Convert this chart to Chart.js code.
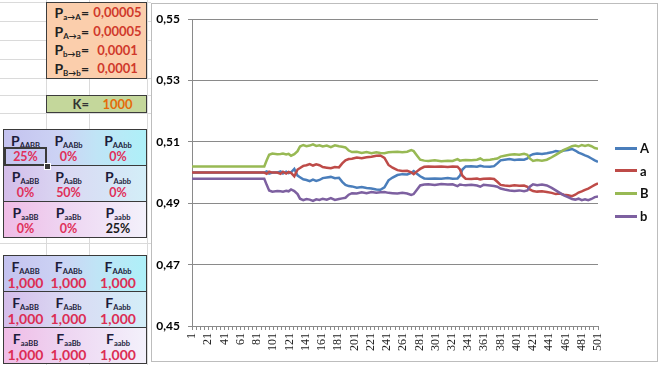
<!DOCTYPE html>
<html>
<head>
<meta charset="utf-8">
<script src="https://cdn.jsdelivr.net/npm/chart.js@4.4.1/dist/chart.umd.min.js"></script>
<style>
  body { margin: 0; width: 660px; height: 365px; overflow: hidden; background: #fff; position: relative; font-family: Lato, "Open Sans", sans-serif; }
  .hl { position: absolute; left: 0; width: 151px; height: 1px; background: #dadada; }
  .vl { position: absolute; top: 0; width: 1px; height: 365px; background: #dadada; }
  .box { position: absolute; box-sizing: border-box; border: 1px solid #3c3c3c; }
  .prow { display: flex; align-items: center; height: 18.7px; }
  .lab { width: 42px; text-align: right; font-weight: 700; font-size: 14px; color: #222; }
  .val { flex: 1; text-align: center; font-weight: 700; font-size: 13px; color: #d0392b; }
  sub { font-size: 8px; vertical-align: -2px; line-height: 0; }
  .tbl sub { font-size: 7.5px; }
  .tbl { position: absolute; left: 3px; width: 144px; box-sizing: border-box; border: 1px solid #3a3a3a; }
  .trow { display: flex; height: 35px; }
  .trow + .trow { border-top: 1px solid #3a3a3a; }
  .c { text-align: center; }
  .c1, .c2 { width: 43px; }
  .c3 { flex: 1; }
  .t { font-weight: 700; font-size: 14px; line-height: 16px; padding-top: 3px; color: #1c1c3a; }
  .v { font-weight: 700; font-size: 12.5px; line-height: 15px; color: #e0305a; }
  .f .v { font-size: 14px; color: #dc2d54; }
  .r1 { background: linear-gradient(90deg, #c4c2ef 0%, #ccd3f4 40%, #c0e4f6 65%, #aef0f8 100%); }
  .r2 { background: linear-gradient(90deg, #d4bdea 0%, #dad9f3 45%, #d3eef8 100%); }
  .r3 { background: linear-gradient(90deg, #f0bce6 0%, #eed6f2 45%, #f3f1fb 100%); }
  #chartbox { position: absolute; left: 151px; top: 3px; width: 507px; height: 359px; box-sizing: border-box; border: 1px solid #bdbdbd; background: #fff; }
  #chart { position: absolute; left: 0; top: 0; }
  .leg { position: absolute; left: 615px; height: 16px; display: flex; align-items: center; font-weight: 700; font-size: 13px; color: #111; }
  .leg span { display: inline-block; width: 22px; height: 3px; margin-right: 3px; }
</style>
</head>
<body>
<div class="hl" style="top:2px"></div>
<div class="hl" style="top:21px"></div>
<div class="hl" style="top:40px"></div>
<div class="hl" style="top:59px"></div>
<div class="hl" style="top:78px"></div>
<div class="hl" style="top:95px"></div>
<div class="hl" style="top:113px"></div>
<div class="hl" style="top:243px"></div>
<div class="vl" style="left:46px"></div>
<div class="vl" style="left:89px"></div>
<div class="vl" style="left:147px"></div>

<div class="box" style="left:46px;top:2px;width:101px;height:77px;background:#fbceac;">
  <div class="prow"><div class="lab">P<sub>a→A</sub>=</div><div class="val">0,00005</div></div>
  <div class="prow"><div class="lab">P<sub>A→a</sub>=</div><div class="val">0,00005</div></div>
  <div class="prow"><div class="lab">P<sub>b→B</sub>=</div><div class="val">0,0001</div></div>
  <div class="prow"><div class="lab">P<sub>B→b</sub>=</div><div class="val">0,0001</div></div>
</div>

<div class="box" style="left:46px;top:95px;width:101px;height:18px;background:#c4d79b;">
  <div class="prow" style="height:16px"><div class="lab" style="font-size:13px;color:#333">K=</div><div class="val" style="color:#e46c0a">1000</div></div>
</div>

<div class="tbl" style="top:129px;">
  <div class="trow r1">
    <div class="c c1"><div class="t">P<sub>AABB</sub></div><div class="v">25%</div></div>
    <div class="c c2"><div class="t">P<sub>AABb</sub></div><div class="v">0%</div></div>
    <div class="c c3"><div class="t">P<sub>AAbb</sub></div><div class="v">0%</div></div>
  </div>
  <div class="trow r2">
    <div class="c c1"><div class="t">P<sub>AaBB</sub></div><div class="v">0%</div></div>
    <div class="c c2"><div class="t">P<sub>AaBb</sub></div><div class="v">50%</div></div>
    <div class="c c3"><div class="t">P<sub>Aabb</sub></div><div class="v">0%</div></div>
  </div>
  <div class="trow r3">
    <div class="c c1"><div class="t">P<sub>aaBB</sub></div><div class="v">0%</div></div>
    <div class="c c2"><div class="t">P<sub>aaBb</sub></div><div class="v">0%</div></div>
    <div class="c c3"><div class="t">P<sub>aabb</sub></div><div class="v" style="color:#1a1a1a">25%</div></div>
  </div>
  <div style="position:absolute;left:0;top:17px;width:43px;height:19px;box-sizing:border-box;border:2px solid #3a3a3a;"></div>
  <div style="position:absolute;left:40px;top:33px;width:5px;height:5px;background:#3a3a3a;border:1px solid #fff;"></div>
</div>

<div class="tbl f" style="top:255px;">
  <div class="trow r1">
    <div class="c c1"><div class="t">F<sub>AABB</sub></div><div class="v">1,000</div></div>
    <div class="c c2"><div class="t">F<sub>AABb</sub></div><div class="v">1,000</div></div>
    <div class="c c3"><div class="t">F<sub>AAbb</sub></div><div class="v">1,000</div></div>
  </div>
  <div class="trow r2">
    <div class="c c1"><div class="t">F<sub>AaBB</sub></div><div class="v">1,000</div></div>
    <div class="c c2"><div class="t">F<sub>AaBb</sub></div><div class="v">1,000</div></div>
    <div class="c c3"><div class="t">F<sub>Aabb</sub></div><div class="v">1,000</div></div>
  </div>
  <div class="trow r3">
    <div class="c c1"><div class="t">F<sub>aaBB</sub></div><div class="v">1,000</div></div>
    <div class="c c2"><div class="t">F<sub>aaBb</sub></div><div class="v">1,000</div></div>
    <div class="c c3"><div class="t">F<sub>aabb</sub></div><div class="v">1,000</div></div>
  </div>
</div>

<div id="chartbox"><canvas id="chart" width="505" height="357"></canvas></div>
<div id="legend"></div>

<script>
// generation index of each sample
const gen = [1, 90, 93, 96, 100, 106, 110, 113, 117, 120, 123, 127, 131, 134, 138, 142, 146, 150, 154, 158,
  162, 167, 172, 177, 182, 186, 190, 194, 198, 204, 210, 216, 222, 228, 233, 238, 243, 248, 254, 260,
  266, 271, 274, 278, 282, 287, 292, 300, 308, 316, 322, 328, 331, 334, 338, 345, 352, 356, 360, 368,
  373, 377, 381, 386, 392, 398, 404, 410, 414, 417, 421, 426, 432, 438, 444, 449, 454, 459, 464, 469,
  473, 477, 481, 485, 489, 493, 497, 501];

// allele frequencies
const freqA = [.5000, .5000, .5004, .4997, .5000, .5000, .5004, .4997, .5003, .4998, .5001, .5012, .4990, .4985, .4978, .4976, .4972, .4977, .4973, .4976,
  .4982, .4984, .4986, .4982, .4983, .4970, .4960, .4956, .4955, .4951, .4953, .4950, .4948, .4945, .4944, .4952, .4975, .4984, .4992, .4995,
  .4994, .4999, .5005, .4996, .4988, .4981, .4980, .4981, .4980, .4982, .4980, .4981, .4990, .5010, .5020, .5021, .5019, .5022, .5020, .5019,
  .5021, .5030, .5040, .5042, .5044, .5041, .5043, .5042, .5046, .5055, .5060, .5062, .5061, .5063, .5066, .5070, .5068, .5072, .5074, .5077,
  .5072, .5065, .5061, .5056, .5052, .5046, .5040, .5035];
const freqa = [.5000, .5000, .4996, .5003, .5000, .5000, .4996, .5003, .4997, .5002, .4999, .4988, .5010, .5015, .5022, .5024, .5028, .5023, .5027, .5024,
  .5018, .5016, .5014, .5018, .5017, .5030, .5040, .5044, .5045, .5049, .5047, .5050, .5052, .5055, .5056, .5048, .5025, .5016, .5008, .5005,
  .5006, .5001, .4995, .5004, .5012, .5019, .5020, .5019, .5020, .5018, .5020, .5019, .5010, .4990, .4980, .4979, .4981, .4978, .4980, .4981,
  .4979, .4970, .4960, .4958, .4956, .4959, .4957, .4958, .4954, .4945, .4940, .4938, .4939, .4937, .4934, .4930, .4932, .4928, .4926, .4923,
  .4928, .4935, .4939, .4944, .4948, .4954, .4960, .4965];
const freqB = [.5020, .5020, .5040, .5058, .5062, .5060, .5061, .5062, .5059, .5061, .5055, .5060, .5070, .5085, .5090, .5086, .5088, .5092, .5087, .5089,
  .5085, .5088, .5083, .5089, .5086, .5084, .5082, .5072, .5067, .5068, .5064, .5067, .5063, .5066, .5064, .5063, .5066, .5067, .5068, .5066,
  .5068, .5073, .5070, .5056, .5042, .5039, .5038, .5040, .5037, .5039, .5038, .5044, .5039, .5040, .5041, .5040, .5042, .5046, .5040, .5042,
  .5044, .5046, .5052, .5055, .5058, .5060, .5058, .5061, .5058, .5046, .5038, .5041, .5039, .5042, .5050, .5058, .5066, .5074, .5080, .5086,
  .5088, .5085, .5090, .5087, .5090, .5086, .5080, .5078];
const freqb = [.4980, .4980, .4960, .4942, .4938, .4940, .4939, .4938, .4941, .4939, .4945, .4940, .4930, .4915, .4910, .4914, .4912, .4908, .4913, .4911,
  .4915, .4912, .4917, .4911, .4914, .4916, .4918, .4928, .4933, .4932, .4936, .4933, .4937, .4934, .4936, .4937, .4934, .4933, .4932, .4934,
  .4932, .4927, .4930, .4944, .4958, .4961, .4962, .4960, .4963, .4961, .4962, .4956, .4961, .4960, .4959, .4960, .4958, .4954, .4960, .4958,
  .4956, .4954, .4948, .4945, .4942, .4940, .4942, .4939, .4942, .4954, .4962, .4959, .4961, .4958, .4950, .4942, .4934, .4926, .4920, .4914,
  .4912, .4915, .4910, .4913, .4910, .4914, .4920, .4922];

const seriesNames = ["A", "a", "B", "b"];
const seriesColors = ["#4a7ebb", "#be4b48", "#98b954", "#7d60a0"];
const xTickLabels = [1, 21, 41, 61, 81, 101, 121, 141, 161, 181, 201, 221, 241, 261, 281, 301, 321, 341, 361, 381, 401, 421, 441, 461, 481, 501];

const allSeries = [freqA, freqa, freqB, freqb];
const axisGray = "#8a8a8a";

const chart = new Chart(document.getElementById("chart"), {
  type: "line",
  data: {
    datasets: allSeries.map((vals, k) => ({
      label: seriesNames[k],
      data: vals.map((v, i) => ({ x: gen[i], y: v })),
      borderColor: seriesColors[k],
      backgroundColor: seriesColors[k],
      borderWidth: 2.5,
      pointRadius: 0,
      tension: 0,
      order: 3 - k, // Excel draws the last series on top
    })),
  },
  options: {
    responsive: false,
    animation: false,
    devicePixelRatio: 1,
    layout: { padding: { left: 0, right: 59, top: 11, bottom: 0 } },
    plugins: { legend: { display: false }, tooltip: { enabled: false } },
    scales: {
      x: {
        type: "linear",
        min: 1,
        max: 501,
        afterBuildTicks: (axis) => {
          const t = [];
          for (let v = 1; v <= 501; v += 5) t.push({ value: v });
          axis.ticks = t;
        },
        afterFit: (axis) => { axis.height = 35; },
        grid: { drawOnChartArea: false, color: axisGray, tickLength: 4 },
        border: { color: axisGray },
        ticks: {
          autoSkip: false,
          maxRotation: 90,
          minRotation: 90,
          padding: 3,
          color: "#222",
          font: { family: "'Liberation Serif', serif", size: 12 },
          callback: (v) => (xTickLabels.includes(v) ? String(v) : ""),
        },
      },
      y: {
        min: 0.45,
        max: 0.55,
        afterFit: (axis) => { axis.width = 40; },
        grid: { color: axisGray, tickLength: 4 },
        border: { color: axisGray },
        ticks: {
          stepSize: 0.02,
          padding: 8,
          color: "#000",
          font: { family: "Lato", size: 12, weight: "bold" },
          callback: (v) => v.toFixed(2).replace(".", ","),
        },
      },
    },
  },
});

// legend on the right, built from the datasets
const legend = document.getElementById("legend");
chart.data.datasets.forEach((ds, k) => {
  const item = document.createElement("div");
  item.className = "leg";
  item.style.top = (140 + k * 22.7) + "px";
  item.innerHTML = '<span style="background:' + ds.borderColor + '"></span>' + ds.label;
  legend.appendChild(item);
});
</script>
</body>
</html>
